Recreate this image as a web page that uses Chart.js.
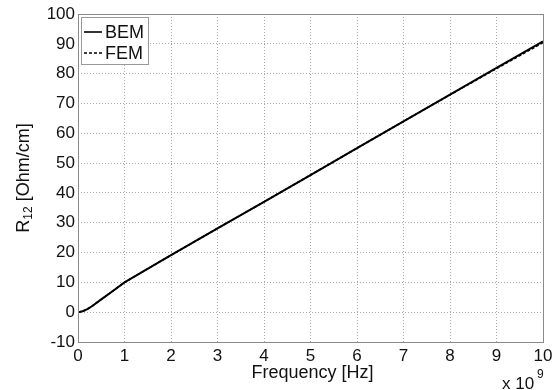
<!DOCTYPE html>
<html>
<head>
<meta charset="utf-8">
<script src="https://cdn.jsdelivr.net/npm/chart.js@4/dist/chart.umd.min.js"></script>
<style>
  html, body { margin: 0; padding: 0; background: #fff; }
  #wrap { width: 557px; height: 390px; }
</style>
</head>
<body>
<div id="wrap"><canvas id="myChart" width="557" height="390"></canvas></div>
<script>
// data (frequency in units of 1e9 Hz)
var freq = [0, 0.1, 0.2, 0.3, 0.5, 0.75, 1, 2, 3, 4, 5, 6, 7, 8, 9, 10];
var bem = [0, 0.3, 1.0, 2.0, 4.3, 7.1, 10, 19.1, 28.1, 37, 46, 55, 64, 73, 81.9, 90.8];
var fem = [0, 0.3, 1.0, 2.0, 4.3, 7.1, 10, 19.1, 28.1, 37, 46, 55, 64, 72.9, 81.7, 90.4];
var seriesNames = ["BEM", "FEM"];
var xTicks = [0, 1, 2, 3, 4, 5, 6, 7, 8, 9, 10];
var yTicks = [-10, 0, 10, 20, 30, 40, 50, 60, 70, 80, 90, 100];

var FONT = "Arial, 'Liberation Sans', sans-serif";
var TXT = "#111";

function pts(xs, ys) {
  return xs.map(function (x, i) { return { x: x, y: ys[i] }; });
}

// extra drawing: frame, legend, axis titles, exponent
var extras = {
  id: "extras",
  afterDraw: function (c) {
    var ctx = c.ctx, a = c.chartArea;
    ctx.save();
    // frame
    ctx.strokeStyle = "#8a8a8a";
    ctx.lineWidth = 1;
    ctx.strokeRect(Math.round(a.left) + 0.5, Math.round(a.top) + 0.5,
      Math.round(a.right - a.left), Math.round(a.bottom - a.top));

    // legend box
    var lx = a.left + 3, ly = a.top + 3, lw = 67, lh = 47;
    ctx.fillStyle = "#fff";
    ctx.fillRect(lx, ly, lw, lh);
    ctx.strokeStyle = "#999";
    ctx.strokeRect(lx + 0.5, ly + 0.5, lw, lh);
    ctx.font = "18px " + FONT;
    ctx.textBaseline = "middle";
    ctx.textAlign = "left";
    var rows = [ly + 15, ly + 36];
    seriesNames.forEach(function (name, i) {
      ctx.strokeStyle = "#000";
      ctx.lineWidth = 1.6;
      ctx.setLineDash(i === 0 ? [] : [3, 2]);
      ctx.beginPath();
      ctx.moveTo(lx + 3, rows[i]);
      ctx.lineTo(lx + 21, rows[i]);
      ctx.stroke();
      ctx.setLineDash([]);
      ctx.fillStyle = TXT;
      ctx.fillText(name, lx + 24, rows[i] + 1);
    });

    // x title
    ctx.fillStyle = TXT;
    ctx.textAlign = "center";
    ctx.fillText("Frequency [Hz]", (a.left + a.right) / 2 + 2, 373);

    // exponent
    ctx.textAlign = "left";
    ctx.textBaseline = "alphabetic";
    ctx.font = "17px " + FONT;
    ctx.fillText("x 10", 502, 389);
    ctx.font = "12px " + FONT;
    ctx.fillText("9", 537, 378);

    // y title, rotated, with subscript
    ctx.translate(24, (a.top + a.bottom) / 2);
    ctx.rotate(-Math.PI / 2);
    ctx.font = "18px " + FONT;
    var w1 = ctx.measureText("R").width;
    ctx.font = "12px " + FONT;
    var w2 = ctx.measureText("12").width;
    ctx.font = "18px " + FONT;
    var w3 = ctx.measureText(" [Ohm/cm]").width;
    var x0 = -(w1 + w2 + w3) / 2;
    ctx.textBaseline = "middle";
    ctx.fillText("R", x0, 0);
    ctx.font = "12px " + FONT;
    ctx.fillText("12", x0 + w1, 5);
    ctx.font = "18px " + FONT;
    ctx.fillText(" [Ohm/cm]", x0 + w1 + w2, 0);
    ctx.restore();
  }
};

var ctx = document.getElementById("myChart").getContext("2d");
var chart = new Chart(ctx, {
  type: "scatter",
  data: {
    datasets: [
      {
        label: seriesNames[0],
        data: pts(freq, bem),
        showLine: true,
        borderColor: "#000",
        borderWidth: 2,
        pointRadius: 0,
        tension: 0
      },
      {
        label: seriesNames[1],
        data: pts(freq, fem),
        showLine: true,
        borderColor: "#000",
        borderWidth: 1.6,
        borderDash: [3, 2],
        pointRadius: 0,
        tension: 0
      }
    ]
  },
  options: {
    responsive: false,
    animation: false,
    layout: { padding: { top: 14, right: 14, left: 0, bottom: 0 } },
    plugins: { legend: { display: false }, tooltip: { enabled: false } },
    scales: {
      x: {
        type: "linear",
        min: 0,
        max: 10,
        afterBuildTicks: function (s) { s.ticks = xTicks.map(function (v) { return { value: v }; }); },
        afterFit: function (s) { s.height = 48; },
        // dotted grid like the original
        border: { display: false, dash: [1, 2] },
        grid: { color: "#a8a8a8", lineWidth: 1, drawTicks: false },
        ticks: { color: TXT, font: { family: FONT, size: 17 }, padding: 4, maxRotation: 0 }
      },
      y: {
        type: "linear",
        min: -10,
        max: 100,
        afterBuildTicks: function (s) { s.ticks = yTicks.map(function (v) { return { value: v }; }); },
        afterFit: function (s) { s.width = 78; },
        border: { display: false, dash: [1, 2] },
        grid: { color: "#a8a8a8", lineWidth: 1, drawTicks: false },
        ticks: { color: TXT, font: { family: FONT, size: 17 }, padding: 3 }
      }
    }
  },
  plugins: [extras]
});
</script>
</body>
</html>
